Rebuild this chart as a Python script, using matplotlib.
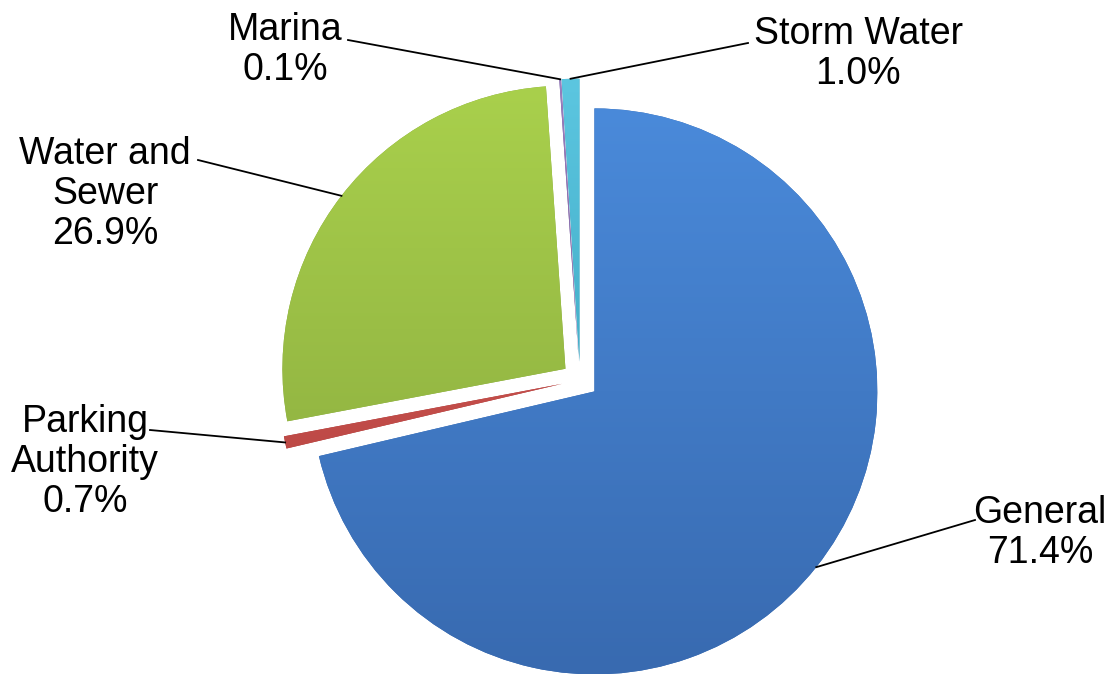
import numpy as np
import matplotlib.pyplot as plt
from matplotlib.colors import LinearSegmentedColormap

plt.rcParams['font.family'] = ['Liberation Sans', 'DejaVu Sans']

# data
labels = ['General', 'Parking\nAuthority', 'Water and\nSewer', 'Marina', 'Storm Water']
values = [71.4, 0.7, 26.9, 0.1, 1.0]
pct_text = ['71.4%', '0.7%', '26.9%', '0.1%', '1.0%']
# (light, dark) shading per slice
colors = [('#4a8ada', '#386ab0'), ('#e0605c', '#a83c39'), ('#a9d04c', '#86a63d'),
          ('#9a7fc0', '#6b5090'), ('#5cc6e0', '#2c98b4')]

# label text positions (pixel space, y measured from top) and leader starts
text_pos = [(1040, 533), (85, 462), (105, 194), (285, 50), (858, 54)]
line_start = [(975, 520), (150, 430), (198, 160), (348, 40), (748, 43)]

W, H = 1112, 674
fig = plt.figure(figsize=(W / 100, H / 100), dpi=100)
ax = fig.add_axes([0, 0, 1, 1])

cx, cy, r = 580, H - 380, 283
# explode is in data units here (radius is in pixels)
wedges, _ = ax.pie(values, startangle=90, counterclock=False, radius=r,
                   center=(cx, cy), explode=[0.065 * r] * len(values),
                   frame=True, wedgeprops=dict(linewidth=0))
ax.axis('off')
ax.set_aspect('equal')

grad = np.linspace(0, 1, 256).reshape(-1, 1)
for w, (light, dark) in zip(wedges, colors):
    w.set_facecolor(dark)
    cmap = LinearSegmentedColormap.from_list('g', [dark, light])
    wx, wy = w.center
    im = ax.imshow(grad, cmap=cmap, origin='lower', aspect='auto',
                   extent=[wx - r, wx + r, wy - r, wy + r], zorder=2)
    im.set_clip_path(w)
    w.set_zorder(1)

for w, lab, pct, (tx, ty), (sx, sy) in zip(wedges, labels, pct_text, text_pos, line_start):
    ang = np.deg2rad((w.theta1 + w.theta2) / 2)
    wx, wy = w.center
    px, py = wx + r * np.cos(ang), wy + r * np.sin(ang)
    ax.plot([sx, px], [H - sy, py], color='black', lw=1.3, zorder=3)
    ax.text(tx, H - ty, lab + '\n' + pct, ha='center', va='center',
            fontsize=27, linespacing=1.15, zorder=4)

ax.set_xlim(0, W)
ax.set_ylim(0, H)
fig.savefig('out.png', dpi=100)
